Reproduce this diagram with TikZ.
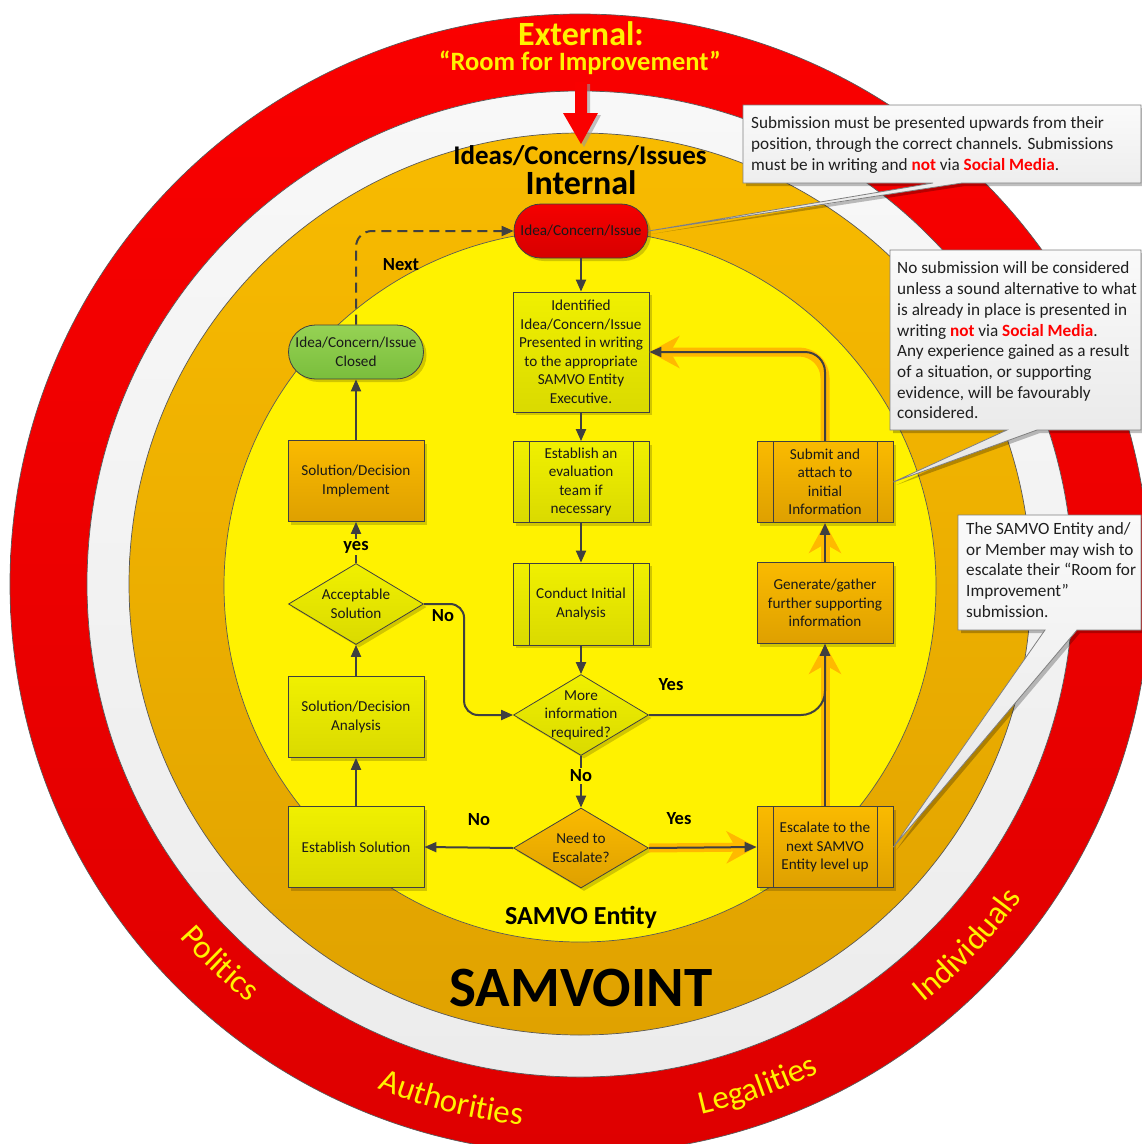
\documentclass[tikz,border=0pt]{standalone}
\usepackage{fontspec}
\setmainfont{Carlito}
\usetikzlibrary{shapes.geometric,arrows.meta,shadows,decorations.text}

\definecolor{ringred}{RGB}{250,0,0}
\definecolor{ringreddark}{RGB}{222,0,0}
\definecolor{ringorange}{RGB}{248,187,0}
\definecolor{ringorangedark}{RGB}{224,162,0}
\definecolor{ringwhite}{RGB}{248,248,248}
\definecolor{ringwhitedark}{RGB}{236,236,236}
\definecolor{yelA}{RGB}{240,240,0}
\definecolor{yelB}{RGB}{218,218,0}
\definecolor{oraA}{RGB}{250,186,0}
\definecolor{oraB}{RGB}{222,160,0}
\definecolor{grnA}{RGB}{150,210,84}
\definecolor{grnB}{RGB}{122,190,60}
\definecolor{redA}{RGB}{245,0,0}
\definecolor{redB}{RGB}{215,0,0}
\definecolor{lineg}{RGB}{64,64,64}
\definecolor{bandc}{RGB}{255,185,0}
\definecolor{calA}{RGB}{250,250,250}
\definecolor{calB}{RGB}{230,230,230}
\definecolor{txtred}{RGB}{255,0,0}

\newcommand\nodefont{\fontsize{15.2}{18.5}\selectfont}
\newcommand\calfont{\fontsize{17.2}{20.7}\selectfont}
\newcommand\lblfont{\fontsize{18.5}{20}\selectfont\bfseries}
\newcommand\ringfont{\fontsize{33}{33}\selectfont}
\newcommand\redbf[1]{\textcolor{txtred}{\bfseries #1}}

\tikzset{
  base/.style={draw=lineg, line width=0.8pt, font=\nodefont, text=black!90,
    align=center, inner sep=2pt,
    drop shadow={shadow xshift=3pt, shadow yshift=-3pt, opacity=0.18, fill=black}},
  yel/.style={top color=yelA, bottom color=yelB},
  ora/.style={top color=oraA, bottom color=oraB},
  boxnode/.style={base, rectangle, minimum width=136pt, minimum height=81pt},
  ppnode/.style={boxnode, path picture={
      \draw[lineg, line width=0.8pt]
        ([xshift=16pt]path picture bounding box.north west) -- ([xshift=16pt]path picture bounding box.south west)
        ([xshift=-16pt]path picture bounding box.north east) -- ([xshift=-16pt]path picture bounding box.south east);}},
  dianode/.style={base, diamond, minimum width=135pt, minimum height=81pt, inner sep=0pt},
  dlabel/.style={font=\nodefont, align=center, text=black!90, inner sep=0pt},
  stadnode/.style={base, rectangle, rounded corners=27pt, minimum width=134pt, minimum height=54pt},
  conn/.style={draw=lineg, line width=2pt, arrows={-Triangle[length=12pt,width=10pt]}},
  band/.style={draw=bandc, line width=9pt, arrows={-Stealth[length=30pt,width=32pt,inset=9pt]}},
  lbl/.style={font=\lblfont, text=black, inner sep=1.5pt},
  calt/.style={font=\calfont, align=left, inner sep=0pt, text=black!88},
  callout/.style={draw=black!50, line width=0.8pt, top color=calA, bottom color=calB,
    drop shadow={shadow xshift=3pt, shadow yshift=-3pt, opacity=0.25, fill=black}},
  ringword/.style={decorate, decoration={text along path, text align=center, text color=yellow}},
  ringline/.style={draw=black!65, line width=0.7pt}
}

\begin{document}
\begin{tikzpicture}[x=1pt, y=1pt]
\useasboundingbox (0,0) rectangle (1142,-1144);
\begin{scope}
\clip (0,0) rectangle (1142,-1144);
\fill[white] (0,0) rectangle (1142,-1144);
\coordinate (C) at (580,-584);
\coordinate (CY) at (580,-586);

% rings
\path[top color=ringred, bottom color=ringreddark, ringline] (C) circle[radius=570];
\path[top color=ringwhite, bottom color=ringwhitedark, ringline] (C) circle[radius=493];
\path[top color=ringorange, bottom color=ringorangedark, ringline] (C) circle[radius=451];
\path[fill=yellow, ringline] (CY) circle[radius=356];

% ring words
\path[ringword, decoration={text={|\ringfont|Politics}}]
  ([shift={(199.5:534)}]C) arc[start angle=199.5, end angle=253.5, radius=534];
\path[ringword, decoration={text={|\ringfont|Authorities}}]
  ([shift={(228:544)}]C) arc[start angle=228, end angle=284, radius=544];
\path[ringword, decoration={text={|\ringfont|Legalities}}]
  ([shift={(262:544)}]C) arc[start angle=262, end angle=317, radius=544];
\path[ringword, decoration={text={|\ringfont|Individuals}}]
  ([shift={(289:542)}]C) arc[start angle=289, end angle=345, radius=542];

% headings
\node[font=\fontsize{34}{34}\selectfont\bfseries, text=yellow] (ext) at (581,-34) {External:};
\node[font=\fontsize{26.5}{27}\selectfont\bfseries, text=yellow] (room) at (580,-63) {“Room for Improvement”};
\node[font=\fontsize{27}{28}\selectfont\bfseries] (ideas) at (580,-156) {Ideas/Concerns/Issues};
\node[font=\fontsize{34}{34}\selectfont\bfseries] (internal) at (581,-183) {Internal};
\node[font=\fontsize{26}{26}\selectfont\bfseries] (entity) at (581,-917) {SAMVO Entity};
\node[font=\fontsize{57}{57}\selectfont\bfseries] (samvoint) at (581,-988) {SAMVOINT};

% top red arrow
\fill[black!40, opacity=0.6] (578,-84) -- (578,-115) -- (566,-115) -- (584,-147) -- (601,-115) -- (590,-115) -- (590,-84) -- cycle;
\fill[ringred] (575,-82) -- (575,-113) -- (563,-113) -- (581,-144) -- (598,-113) -- (587,-113) -- (587,-82) -- cycle;

% nodes
\node[stadnode, top color=redA, bottom color=redB] (n1) at (581,-231) {Idea/Concern/Issue};
\node[boxnode, yel, minimum height=120pt] (n2) at (581,-352)
  {Identified\\Idea/Concern/Issue\\Presented in writing\\to the appropriate\\SAMVO Entity\\Executive.};
\node[ppnode, yel] (n3) at (581,-482) {Establish an\\evaluation\\team if\\necessary};
\node[ppnode, yel, minimum height=82pt] (n4) at (581,-604) {Conduct Initial\\Analysis};
\node[dianode, yel, label={[dlabel]center:More\\information\\required?}] (n5) at (581,-715) {};
\node[dianode, ora, minimum height=80pt, label={[dlabel]center:Need to\\Escalate?}] (n6) at (581,-848) {};
\node[boxnode, yel] (n7) at (356,-847) {Establish Solution};
\node[boxnode, yel] (n8) at (356,-717) {Solution/Decision\\Analysis};
\node[dianode, yel, label={[dlabel]center:Acceptable\\Solution}] (n9) at (356,-604) {};
\node[boxnode, ora] (n10) at (356,-481) {Solution/Decision\\Implement};
\node[stadnode, top color=grnA, bottom color=grnB, minimum width=135pt] (n11) at (356,-352) {Idea/Concern/Issue\\Closed};
\node[ppnode, ora] (n12) at (825,-847) {Escalate to the\\next SAMVO\\Entity level up};
\node[boxnode, ora] (n13) at (825,-603) {Generate/gather\\further supporting\\information};
\node[ppnode, ora] (n14) at (825,-482) {Submit and\\attach to\\initial\\Information};

% orange bands
\draw[band] (n6.east) -- (n12.west);
\draw[band] (n12.north) -- (n13.south);
\draw[band] (n13.north) -- (n14.south);
\draw[band, rounded corners=26pt] (n14.north) |- (n2.east);

% connectors
\draw[conn] (n1.south) -- (n2.north);
\draw[conn] (n2.south) -- (n3.north);
\draw[conn] (n3.south) -- (n4.north);
\draw[conn] (n4.south) -- (n5.north);
\draw[conn] (n5.south) -- (n6.north);
\draw[conn] (n6.west) -- (n7.east);
\draw[conn] (n6.east) -- (n12.west);
\draw[conn] (n12.north) -- (n13.south);
\draw[conn, rounded corners=24pt] (n5.east) -| (n13.south);
\draw[conn] (n13.north) -- (n14.south);
\draw[conn, rounded corners=20pt] (n14.north) |- (n2.east);
\draw[conn] (n7.north) -- (n8.south);
\draw[conn] (n8.north) -- (n9.south);
\draw[conn] (n9.north) -- (n10.south);
\draw[conn] (n10.north) -- (n11.south);
\draw[conn, rounded corners=14pt] (n9.east) -| ([xshift=-49pt]n5.west) -- (n5.west);
\draw[conn, dash pattern=on 10pt off 6pt, rounded corners=16pt] (n11.north) |- (n1.west);

% connector labels
\node[lbl] (lnext) at (401,-265) {Next};
\node[lbl, fill=yellow] (lyes1) at (356,-547) {yes};
\node[lbl] (lno1) at (443,-616) {No};
\node[lbl] (lyes2) at (671,-685) {Yes};
\node[lbl, fill=yellow] (lno2) at (581,-776) {No};
\node[lbl] (lno3) at (479,-820) {No};
\node[lbl] (lyes3) at (679,-819) {Yes};

% callouts
\path[callout] (743,-105) -- (1141,-105) -- (1141,-183) -- (962,-183) -- (n1.east) -- (933,-183) -- (743,-183) -- cycle;
\node[calt, anchor=west] (ta) at (751,-145)
  {Submission must be presented upwards from their\\position, through the correct channels. Submissions\\must be in writing and \redbf{not} via \redbf{Social Media}.};
\path[callout] (890,-250) -- (1141,-250) -- (1141,-430) -- (1037,-430) -- (n14.east) -- (1007,-430) -- (890,-430) -- cycle;
\node[calt, anchor=west] (tb) at (897,-340.5)
  {No submission will be considered\\unless a sound alternative to what\\is already in place is presented in\\writing \redbf{not} via \redbf{Social Media}.\\Any experience gained as a result\\of a situation, or supporting\\evidence, will be favourably\\considered.};
\path[callout] (958,-515) -- (1141,-515) -- (1141,-630) -- (1077,-630) -- (n12.east) -- (1045,-630) -- (958,-630) -- cycle;
\node[calt, anchor=west] (tc) at (966,-570)
  {The SAMVO Entity and/\\or Member may wish to\\escalate their “Room for\\Improvement”\\submission.};
\end{scope}
\end{tikzpicture}
\end{document}
